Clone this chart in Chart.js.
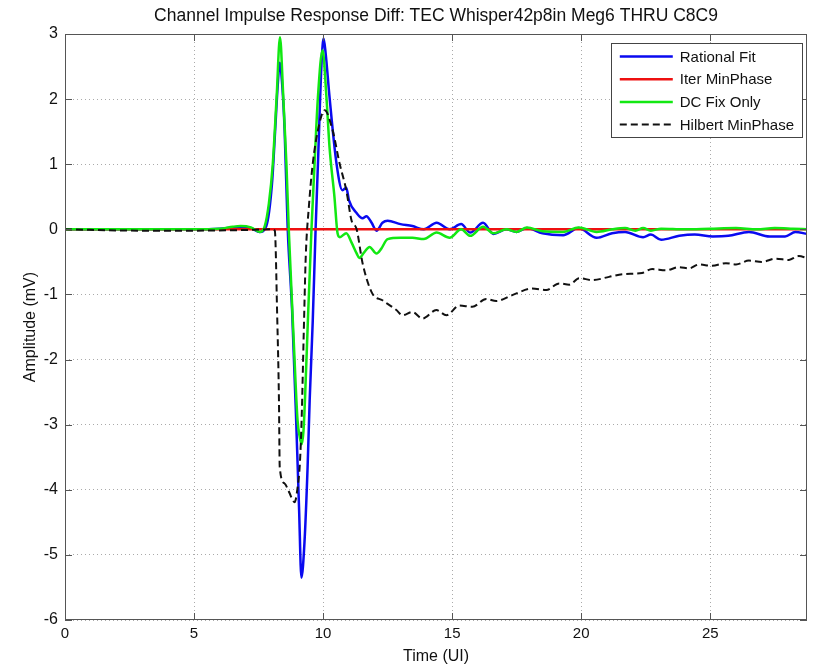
<!DOCTYPE html>
<html>
<head>
<meta charset="utf-8">
<title>Channel Impulse Response Diff</title>
<script src="https://cdn.jsdelivr.net/npm/chart.js@4.4.1/dist/chart.umd.min.js"></script>
<style>
  html, body { margin: 0; padding: 0; background: #fff; }
  #wrap { width: 815px; height: 669px; }
</style>
</head>
<body>
<div id="wrap"><canvas id="chart" width="815" height="669"></canvas></div>
<script>
// Time (UI) / amplitude (mV) samples
const rationalT = [0, 2, 4, 5, 6, 6.5, 6.8, 7.2, 7.55, 7.8, 8.02, 8.14, 8.24, 8.32, 8.42, 8.51, 8.63, 8.8, 8.95, 9.07, 9.16, 9.28, 9.4, 9.48, 9.6, 9.71, 9.8, 9.94, 10.02, 10.1, 10.25, 10.52, 10.75, 10.9, 11.0, 11.3, 11.53, 11.68, 11.88, 12.07, 12.3, 12.5, 13.0, 13.46, 13.9, 14.4, 14.9, 15.35, 15.7, 16.2, 16.6, 17.1, 17.5, 17.9, 18.5, 19.3, 19.9, 20.6, 21.2, 21.7, 22.4, 22.7, 23.1, 23.8, 24.4, 25.1, 25.7, 26.5, 27.3, 27.9, 28.3, 28.75];
const rationalV = [0, 0, 0, 0, 0.01, 0.03, 0.04, 0.02, -0.04, 0.05, 0.7, 1.5, 2.2, 2.56, 2.2, 1.52, 0, -1.25, -2.85, -4.3, -5.35, -4.8, -3.65, -2.63, -1.4, 0, 1.0, 2.55, 2.93, 2.7, 2.03, 1.01, 0.6, 0.64, 0.45, 0.25, 0.17, 0.2, 0.1, -0.02, 0.1, 0.13, 0.08, 0.05, 0.0, 0.1, 0.0, 0.08, -0.05, 0.1, -0.07, 0.0, -0.04, 0.02, -0.06, -0.09, 0.02, -0.13, -0.06, -0.04, -0.12, -0.08, -0.16, -0.10, -0.08, -0.11, -0.10, -0.04, -0.11, -0.11, -0.04, -0.07];

const iterT = [0, 10, 20, 28.75];
const iterV = [0, 0, 0, 0];

const dcT = [0, 2, 4, 5, 6, 6.5, 6.8, 7.2, 7.55, 7.74, 7.9, 8.05, 8.2, 8.33, 8.45, 8.58, 8.67, 8.85, 9.01, 9.1, 9.17, 9.24, 9.3, 9.42, 9.55, 9.67, 9.8, 9.98, 10.13, 10.25, 10.44, 10.56, 10.65, 10.9, 11.1, 11.3, 11.4, 11.6, 11.8, 12.07, 12.25, 12.5, 13.0, 13.46, 13.9, 14.4, 14.9, 15.35, 15.7, 16.2, 16.6, 17.1, 17.5, 17.9, 18.5, 19.3, 19.9, 20.6, 21.2, 21.7, 22.1, 22.4, 22.7, 23.1, 24, 25, 26, 26.8, 27.5, 28.2, 28.75];
const dcV = [0, 0, 0, 0, 0.01, 0.04, 0.05, 0.03, -0.04, 0.05, 0.4, 1.0, 2.03, 2.95, 2.1, 1.0, 0, -1.6, -2.93, -3.2, -3.3, -3.1, -2.6, -1.3, 0, 1.01, 2.03, 2.75, 2.03, 1.26, 0.5, -0.06, -0.12, -0.06, -0.2, -0.37, -0.44, -0.35, -0.27, -0.37, -0.3, -0.15, -0.13, -0.13, -0.15, -0.05, -0.13, 0, -0.1, 0.04, -0.06, 0, -0.04, 0.03, -0.03, -0.04, 0.03, -0.04, 0, 0.02, -0.02, 0.02, -0.02, 0.01, 0, 0.01, 0.02, 0, 0.02, 0.01, 0];

const hilbertT = [0, 3, 5, 7, 8.0, 8.13, 8.22, 8.29, 8.32, 8.5, 8.7, 8.82, 8.9, 9.0, 9.1, 9.17, 9.25, 9.33, 9.45, 9.6, 9.86, 10.06, 10.37, 10.64, 10.9, 11.1, 11.3, 11.53, 11.9, 12.3, 12.84, 13.08, 13.46, 13.85, 14.39, 14.78, 15.28, 15.78, 16.32, 16.71, 17.33, 18.1, 18.65, 19.15, 19.54, 19.92, 20.43, 21.08, 21.59, 22.36, 22.75, 23.29, 23.79, 24.18, 24.56, 25.07, 25.61, 26.0, 26.5, 27.0, 27.54, 28.05, 28.43, 28.75];
const hilbertV = [0, -0.02, -0.02, -0.01, 0, -0.02, -1.3, -2.63, -3.65, -3.9, -4.05, -4.16, -4.19, -4.0, -3.6, -2.9, -1.6, -0.4, 0.35, 1.01, 1.63, 1.83, 1.52, 1.01, 0.6, 0.14, 0, -0.52, -0.98, -1.09, -1.24, -1.32, -1.27, -1.37, -1.24, -1.32, -1.17, -1.19, -1.07, -1.1, -1.01, -0.91, -0.93, -0.83, -0.85, -0.75, -0.78, -0.73, -0.69, -0.67, -0.61, -0.63, -0.58, -0.6, -0.54, -0.56, -0.52, -0.54, -0.48, -0.5, -0.45, -0.47, -0.41, -0.44];

const seriesLabels = ['Rational Fit', 'Iter MinPhase', 'DC Fix Only', 'Hilbert MinPhase'];
const xTicks = [0, 5, 10, 15, 20, 25];
const yTicks = [-6, -5, -4, -3, -2, -1, 0, 1, 2, 3];

const FONT = '"Liberation Sans", Arial, Helvetica, sans-serif';

function points(ts, vs) {
    return ts.map((t, i) => ({ x: t, y: vs[i] }));
}

// Box round the axes, MATLAB-style inner ticks and the legend
const framePlugin = {
    id: 'frame',
    afterDraw(chart) {
        const { ctx, chartArea: a, scales } = chart;
        ctx.save();
        ctx.strokeStyle = '#555';
        ctx.lineWidth = 1;
        ctx.setLineDash([]);
        ctx.strokeRect(a.left + 0.5, a.top + 0.5, a.width - 1, a.height - 1);

        ctx.beginPath();
        xTicks.forEach(v => {
            const px = Math.round(scales.x.getPixelForValue(v)) + 0.5;
            ctx.moveTo(px, a.bottom); ctx.lineTo(px, a.bottom - 7);
            ctx.moveTo(px, a.top); ctx.lineTo(px, a.top + 7);
        });
        yTicks.forEach(v => {
            const py = Math.round(scales.y.getPixelForValue(v)) + 0.5;
            ctx.moveTo(a.left, py); ctx.lineTo(a.left + 7, py);
            ctx.moveTo(a.right, py); ctx.lineTo(a.right - 7, py);
        });
        ctx.stroke();

        // legend
        ctx.font = '15px ' + FONT;
        const textW = Math.max(...seriesLabels.map(s => ctx.measureText(s).width));
        const w = 9 + 53 + 7 + textW + 8;
        const h = 94;
        const right = a.right - 5;
        const left = right - w;
        const top = a.top + 9;
        ctx.fillStyle = '#fff';
        ctx.fillRect(left, top, w, h);
        ctx.strokeStyle = '#444';
        ctx.strokeRect(Math.round(left) + 0.5, top + 0.5, Math.round(w), h);
        chart.data.datasets.forEach((ds, i) => {
            const cy = top + 13.5 + i * 22.7;
            ctx.beginPath();
            ctx.strokeStyle = ds.borderColor;
            ctx.lineWidth = ds.borderWidth;
            ctx.setLineDash(ds.borderDash || []);
            ctx.moveTo(left + 9, cy);
            ctx.lineTo(left + 62, cy);
            ctx.stroke();
            ctx.setLineDash([]);
            ctx.fillStyle = '#111';
            ctx.textBaseline = 'middle';
            ctx.textAlign = 'left';
            ctx.fillText(ds.label, left + 69, cy + 1);
        });
        ctx.restore();
    }
};

const lineDefaults = {
    pointRadius: 0,
    fill: false,
    cubicInterpolationMode: 'monotone'
};

new Chart(document.getElementById('chart'), {
    type: 'line',
    data: {
        datasets: [
            { ...lineDefaults, label: seriesLabels[0], data: points(rationalT, rationalV), borderColor: '#0a0af0', borderWidth: 2.5, order: 3 },
            { ...lineDefaults, label: seriesLabels[1], data: points(iterT, iterV), borderColor: '#ee1010', borderWidth: 2.5, order: 2 },
            { ...lineDefaults, label: seriesLabels[2], data: points(dcT, dcV), borderColor: '#12e812', borderWidth: 2.5, order: 1 },
            { ...lineDefaults, label: seriesLabels[3], data: points(hilbertT, hilbertV), borderColor: '#111', borderWidth: 2, borderDash: [7, 4], order: 0 }
        ]
    },
    options: {
        responsive: false,
        animation: false,
        layout: { padding: { left: 0, right: 8, top: 0, bottom: 0 } },
        plugins: {
            legend: { display: false },
            tooltip: { enabled: false },
            title: {
                display: true,
                fullSize: false,
                text: 'Channel Impulse Response Diff: TEC Whisper42p8in Meg6 THRU C8C9',
                color: '#111',
                font: { family: FONT, size: 17.5, weight: 'normal' },
                padding: { top: 6, bottom: 7 }
            }
        },
        scales: {
            x: {
                type: 'linear',
                min: 0,
                max: 28.75,
                afterBuildTicks: s => { s.ticks = xTicks.map(v => ({ value: v })); },
                afterFit: s => { s.height = 49; },
                ticks: { color: '#111', font: { family: FONT, size: 15 }, padding: 5, maxRotation: 0 },
                grid: { color: '#aaa', drawTicks: false, lineWidth: 1 },
                border: { display: false, dash: [1, 3] },
                title: { display: true, text: 'Time (UI)', color: '#111', font: { family: FONT, size: 16 }, padding: { top: 0, bottom: 3 } }
            },
            y: {
                min: -6,
                max: 3,
                afterBuildTicks: s => { s.ticks = yTicks.map(v => ({ value: v })); },
                afterFit: s => { s.width = 65; },
                ticks: { color: '#111', font: { family: FONT, size: 16 }, padding: 7 },
                grid: { color: '#aaa', drawTicks: false, lineWidth: 1 },
                border: { display: false, dash: [1, 3] },
                title: { display: true, text: 'Amplitude (mV)', color: '#111', font: { family: FONT, size: 16 }, padding: { top: 21, bottom: 0 } }
            }
        }
    },
    plugins: [framePlugin]
});
</script>
</body>
</html>
